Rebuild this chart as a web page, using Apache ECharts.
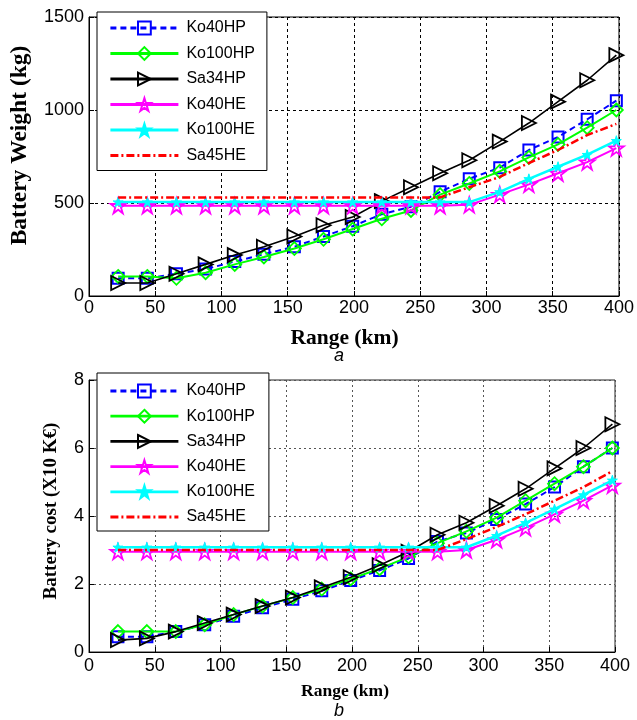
<!DOCTYPE html>
<html><head><meta charset="utf-8">
<script src="https://cdn.jsdelivr.net/npm/echarts@6/dist/echarts.min.js"></script>
<style>html,body{margin:0;padding:0;background:#fff}#c{width:637px;height:720px}</style>
</head><body><div id="c"></div>
<script>
// ---------- data ----------
const rangeKm = [22,44,66,88,110,132,155,177,199,221,243,265,287,310,332,354,376,398];
const seriesNames = ['Ko40HP','Ko100HP','Sa34HP','Ko40HE','Ko100HE','Sa45HE'];

// Battery weight (kg) – chart a
const weightKo40HP  = [95,95,120,145,185,225,265,320,375,440,480,560,630,690,785,855,950,1050];
const weightKo100HP = [105,105,95,125,170,210,255,305,360,415,460,545,605,670,745,815,905,1000];
const weightSa34HP  = [70,70,120,170,220,265,320,380,425,510,585,660,730,830,930,1045,1160,1295];
const weightKo40HE  = [485,485,485,485,485,485,485,485,485,485,485,485,490,545,600,660,720,795];
const weightKo100HE = [505,505,505,505,505,505,505,505,505,505,505,505,505,560,630,695,760,835];
const weightSa45HE  = [530,530,530,530,530,530,530,530,530,530,530,530,585,640,715,785,865,925];

// Battery cost (x10 k€) – chart b
const costKo40HP  = [0.45,0.45,0.6,0.8,1.05,1.3,1.55,1.8,2.1,2.4,2.75,3.25,3.5,3.9,4.35,4.85,5.45,6.0];
const costKo100HP = [0.6,0.6,0.6,0.8,1.1,1.35,1.6,1.85,2.15,2.45,2.8,3.2,3.55,3.95,4.45,4.95,5.45,6.0];
const costSa34HP  = [0.35,0.4,0.6,0.85,1.1,1.35,1.6,1.9,2.2,2.55,2.95,3.45,3.8,4.3,4.8,5.4,6.0,6.7];
const costKo40HE  = [2.95,2.95,2.95,2.95,2.95,2.95,2.95,2.95,2.95,2.95,2.95,2.95,3.0,3.3,3.65,4.05,4.45,4.9];
const costKo100HE = [3.08,3.08,3.08,3.08,3.08,3.08,3.08,3.08,3.08,3.08,3.08,3.08,3.08,3.42,3.8,4.2,4.62,5.05];
const costSa45HE  = [3.0,3.0,3.0,3.0,3.0,3.0,3.0,3.0,3.0,3.0,3.0,3.0,3.32,3.68,4.05,4.45,4.85,5.32];

const weightData = [weightKo40HP, weightKo100HP, weightSa34HP, weightKo40HE, weightKo100HE, weightSa45HE];
const costData = [costKo40HP, costKo100HP, costSa34HP, costKo40HE, costKo100HE, costSa45HE];

// ---------- styles ----------
const triRight = 'path://M0,0 L10,5 L0,10 Z';
const star5 = 'path://M5,0 L6.123,3.455 L9.755,3.455 L6.817,5.59 L7.939,9.045 L5,6.91 L2.061,9.045 L3.183,5.59 L0.245,3.455 L3.877,3.455 Z';
const styles = [
  {color:'#0000ff', type:[6,4], width:2, symbol:'rect', size:11, fill:'rgba(0,0,0,0)', bw:2},
  {color:'#00ff00', type:'solid', width:2, symbol:'diamond', size:13, fill:'rgba(0,0,0,0)', bw:1.8},
  {color:'#000000', type:'solid', width:1.6, symbol:triRight, size:14, fill:'rgba(0,0,0,0)', bw:1.8},
  {color:'#ff00ff', type:'solid', width:2, symbol:star5, size:15, fill:'rgba(0,0,0,0)', bw:1.8},
  {color:'#00ffff', type:'solid', width:2.5, symbol:star5, size:10, fill:'#00ffff', bw:1},
  {color:'#ff0000', type:[8,3,2,3], width:2.5, symbol:'none', size:1, fill:'rgba(0,0,0,0)', bw:0}
];

function buildSeries(dataSets, gi) {
  return dataSets.map((vals, i) => {
    const s = styles[i];
    return {
      name: seriesNames[i], type:'line', xAxisIndex:gi, yAxisIndex:gi,
      data: rangeKm.map((x, k) => [x, vals[k]]),
      symbol: s.symbol, symbolSize: s.size, showSymbol: s.symbol !== 'none',
      lineStyle: {color:s.color, type:s.type, width:s.width},
      itemStyle: {color:s.fill, borderColor:s.color, borderWidth:s.bw},
      emphasis: {disabled:true}, animation:false, z: 2 + i
    };
  });
}

const sans = 'Liberation Sans, Arial, sans-serif';
const serif = 'Liberation Serif, Times New Roman, serif';

function xAxisCfg(gi, nameSize, nameGap, padRight, gridCol, gridType, margin) {
  return {
    type:'value', gridIndex:gi, min:0, max:400, interval:50,
    name:'Range (km)', nameLocation:'middle', nameGap:nameGap,
    nameTextStyle:{fontFamily:serif, fontWeight:'bold', fontSize:nameSize, color:'#000', padding:[0,padRight,0,0]},
    axisLine:{show:true, lineStyle:{color:'#000', width:1}},
    axisTick:{show:true, inside:true, length:5, lineStyle:{color:'#000'}},
    axisLabel:{fontFamily:sans, fontSize:18, color:'#000', margin:margin, formatter:v=>String(v)},
    splitLine:{show:true, lineStyle:{color:gridCol, type:gridType, width:1}}
  };
}
function yAxisCfg(gi, name, max, interval, nameSize, nameGap, namePad, gridCol, gridType) {
  return {
    type:'value', gridIndex:gi, min:0, max:max, interval:interval,
    name:name, nameLocation:'middle', nameGap:nameGap, nameRotate:90,
    nameTextStyle:{fontFamily:serif, fontWeight:'bold', fontSize:nameSize, color:'#000', padding:namePad},
    axisLine:{show:true, lineStyle:{color:'#000', width:1}},
    axisTick:{show:true, inside:true, length:5, lineStyle:{color:'#000'}},
    axisLabel:{fontFamily:sans, fontSize:18, color:'#000', margin:5, formatter:v=>String(v)},
    splitLine:{show:true, lineStyle:{color:gridCol, type:gridType, width:1}}
  };
}
function legendCfg(left, top, gap, pad) {
  return {
    data: seriesNames, orient:'vertical', left:left, top:top,
    itemWidth:68, itemHeight:16, itemGap:gap,
    padding:pad,
    backgroundColor:'#fff', borderColor:'#000', borderWidth:1,
    textStyle:{fontFamily:sans, fontSize:16, color:'#000', padding:[0,0,0,3]},
    lineStyle:{width:2.8},
    selectedMode:false, z:10
  };
}

const option = {
  animation:false,
  backgroundColor:'#fff',
  grid:[
    {left:89, top:17, width:531, height:279, show:true, borderColor:'#000', borderWidth:1, backgroundColor:'rgba(0,0,0,0)'},
    {left:89, top:380, width:526, height:272, show:true, borderColor:'#222', borderWidth:1, backgroundColor:'rgba(0,0,0,0)'}
  ],
  xAxis:[
    xAxisCfg(0, 21.5, 31, 19, '#000', [3,3], 3),
    xAxisCfg(1, 17.5, 30, 14, '#555', [2,3], 5)
  ],
  yAxis:[
    yAxisCfg(0, 'Battery Weight (kg)', 1500, 500, 23.5, 57, [0,0,0,22], '#000', [3,3]),
    yAxisCfg(1, 'Battery cost (X10 K€)', 8, 2, 19, 28, [0,0,0,10], '#555', [2,3])
  ],
  legend:[ legendCfg(97, 12, 9.5, [8,12,7,12]), legendCfg(97, 373, 9.2, [10,14,6,12]) ],
  graphic:[
    {type:'text', left:334, top:347, style:{text:'a', fontFamily:sans, fontStyle:'italic', fontSize:18, fill:'#000'}},
    {type:'text', left:334, top:702, style:{text:'b', fontFamily:sans, fontStyle:'italic', fontSize:18, fill:'#000'}}
  ],
  series: buildSeries(weightData, 0).concat(buildSeries(costData, 1))
};

const chart = echarts.init(document.getElementById('c'), null, {renderer:'canvas'});
chart.setOption(option);
</script>
</body></html>
